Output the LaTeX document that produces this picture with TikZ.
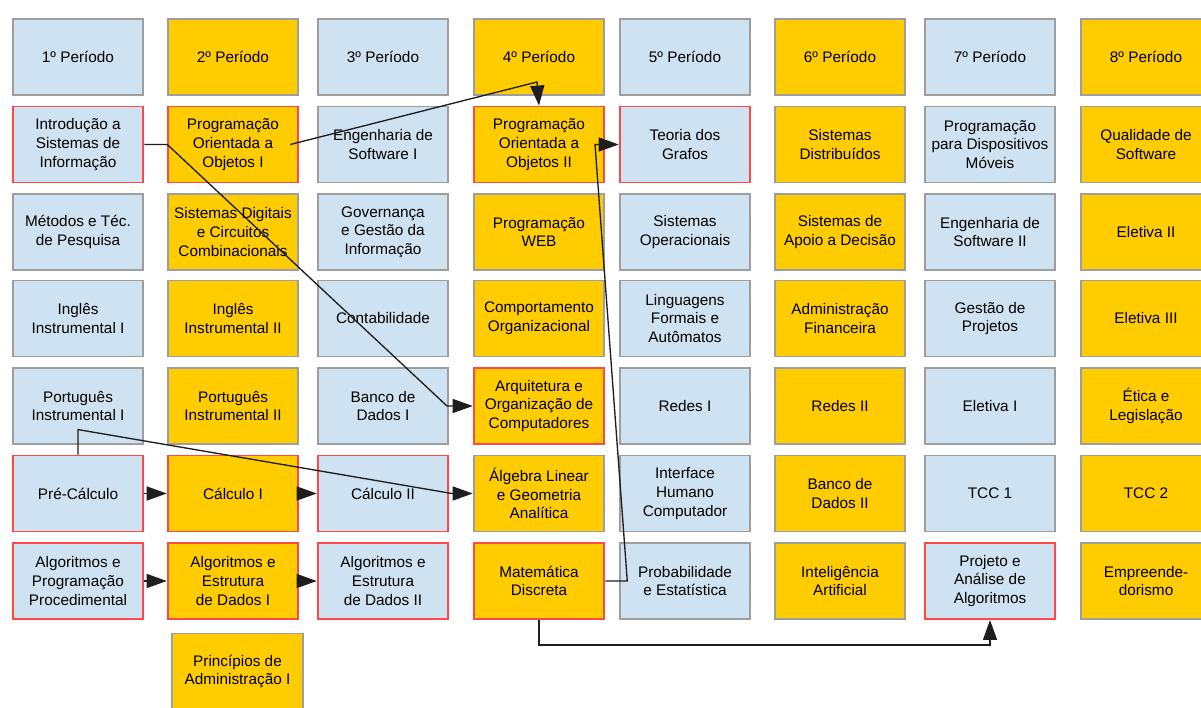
\documentclass[tikz,border=0pt]{standalone}
\usepackage{fontspec}
\setmainfont{Liberation Sans}
\usetikzlibrary{arrows.meta}
\definecolor{lblue}{RGB}{207,226,242}
\definecolor{gold}{RGB}{255,204,0}
\definecolor{redb}{RGB}{255,72,72}
\definecolor{greyb}{RGB}{158,158,158}
\definecolor{ink}{RGB}{30,30,30}
\tikzset{
  box/.style={draw=greyb, line width=1.4pt, minimum width=98pt, minimum height=57pt,
    inner sep=0pt, align=center, font=\fontsize{11.5}{14}\selectfont},
  bbox/.style={box, fill=lblue},
  ybox/.style={box, fill=gold},
  req/.style={draw=redb},
  conn/.style={draw=ink, line width=1pt, -{Triangle[length=15pt,width=10.5pt]}},
}
\begin{document}
\begin{tikzpicture}[x=0.75pt,y=-0.75pt]
\useasboundingbox (0,0) rectangle (1201,707);
\fill[white] (0,0) rectangle (1201,707);
% column 1
\node[bbox] (h1) at (78,57) {1º Período};
\node[bbox,req] (intro) at (78,144.5) {Introdução a\\Sistemas de\\Informação};
\node[bbox] (metodos) at (78,232) {Métodos e Téc.\\de Pesquisa};
\node[bbox] (ingi) at (78,318.5) {Inglês\\Instrumental I};
\node[bbox] (porti) at (78,406) {Português\\Instrumental I};
\node[bbox,req] (prec) at (78,493.5) {Pré-Cálculo};
\node[bbox,req] (algp) at (78,581) {Algoritmos e\\Programação\\Procedimental};
% column 2
\node[ybox] (h2) at (233,57) {2º Período};
\node[ybox,req] (pooi) at (233,144.5) {Programação\\Orientada a\\Objetos I};
\node[ybox] (sdig) at (233,232) {Sistemas Digitais\\e Circuitos\\Combinacionais};
\node[ybox] (ingii) at (233,318.5) {Inglês\\Instrumental II};
\node[ybox] (portii) at (233,406) {Português\\Instrumental II};
\node[ybox,req] (calci) at (233,493.5) {Cálculo I};
\node[ybox,req] (aedi) at (233,581) {Algoritmos e\\Estrutura\\de Dados I};
\node[ybox] (padm) at (237.5,671.5) {Princípios de\\Administração I};
% column 3
\node[bbox] (h3) at (383,57) {3º Período};
\node[bbox] (esi) at (383,144.5) {Engenharia de\\Software I};
\node[bbox] (gov) at (383,232) {Governança\\e Gestão da\\Informação};
\node[bbox] (cont) at (383,318.5) {Contabilidade};
\node[bbox] (bdi) at (383,406) {Banco de\\Dados I};
\node[bbox,req] (calcii) at (383,493.5) {Cálculo II};
\node[bbox,req] (aedii) at (383,581) {Algoritmos e\\Estrutura\\de Dados II};
% column 4
\node[ybox] (h4) at (539,57) {4º Período};
\node[ybox,req] (pooii) at (539,144.5) {Programação\\Orientada a\\Objetos II};
\node[ybox] (web) at (539,232) {Programação\\WEB};
\node[ybox] (comp) at (539,318.5) {Comportamento\\Organizacional};
\node[ybox,req] (arq) at (539,406) {Arquitetura e\\Organização de\\Computadores};
\node[ybox] (alg) at (539,493.5) {Álgebra Linear\\e Geometria\\Analítica};
\node[ybox,req] (matd) at (539,581) {Matemática\\Discreta};
% column 5
\node[bbox] (h5) at (685,57) {5º Período};
\node[bbox,req] (grafos) at (685,144.5) {Teoria dos\\Grafos};
\node[bbox] (so) at (685,232) {Sistemas\\Operacionais};
\node[bbox] (lfa) at (685,318.5) {Linguagens\\Formais e\\Autômatos};
\node[bbox] (redesi) at (685,406) {Redes I};
\node[bbox] (ihc) at (685,493.5) {Interface\\Humano\\Computador};
\node[bbox] (prob) at (685,581) {Probabilidade\\e Estatística};
% column 6
\node[ybox] (h6) at (840,57) {6º Período};
\node[ybox] (sd) at (840,144.5) {Sistemas\\Distribuídos};
\node[ybox] (sad) at (840,232) {Sistemas de\\Apoio a Decisão};
\node[ybox] (admf) at (840,318.5) {Administração\\Financeira};
\node[ybox] (redesii) at (840,406) {Redes II};
\node[ybox] (bdii) at (840,493.5) {Banco de\\Dados II};
\node[ybox] (ia) at (840,581) {Inteligência\\Artificial};
% column 7
\node[bbox] (h7) at (990,57) {7º Período};
\node[bbox] (pdm) at (990,144.5) {Programação\\para Dispositivos\\Móveis};
\node[bbox] (esii) at (990,232) {Engenharia de\\Software II};
\node[bbox] (gp) at (990,318.5) {Gestão de\\Projetos};
\node[bbox] (eli) at (990,406) {Eletiva I};
\node[bbox] (tcci) at (990,493.5) {TCC 1};
\node[bbox,req] (paa) at (990,581) {Projeto e\\Análise de\\Algoritmos};
% column 8
\node[ybox] (h8) at (1146,57) {8º Período};
\node[ybox] (qs) at (1146,144.5) {Qualidade de\\Software};
\node[ybox] (elii) at (1146,232) {Eletiva II};
\node[ybox] (eliii) at (1146,318.5) {Eletiva III};
\node[ybox] (etica) at (1146,406) {Ética e\\Legislação};
\node[ybox] (tccii) at (1146,493.5) {TCC 2};
\node[ybox] (empr) at (1146,581) {Empreende-\\dorismo};
% connectors
\draw[conn] (intro.east) -- ++(23,0) -- (447,406) -- (arq.west);
\draw[conn] ([xshift=-6.75pt]pooi.east) -- (537,82) -- (pooii.north);
\draw[conn] (matd.east) -- ++(22,0) -- (595,144.5) -- (grafos.west);
\draw[conn] (matd.south) -- ++(0,25) -| (paa.south);
\draw[conn] (prec.north) -- ++(0,-25) -- (452,493.5) -- (alg.west);
\draw[conn] (prec) -- (calci);
\draw[conn] (calci) -- (calcii);
\draw[conn] (algp) -- (aedi);
\draw[conn] (aedi) -- (aedii);
\end{tikzpicture}
\end{document}
